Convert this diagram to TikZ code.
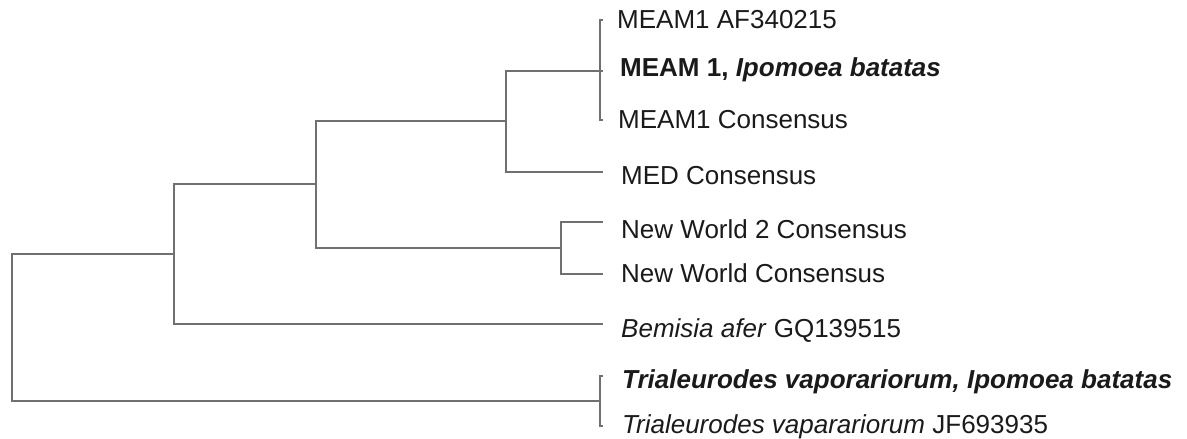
\documentclass[tikz,border=0pt]{standalone}
\usepackage{fontspec}
\setmainfont{Liberation Sans}
\usepackage{tikz}
\usetikzlibrary{positioning}
\definecolor{treegray}{HTML}{707070}
\definecolor{labelink}{HTML}{1A1A1A}

\begin{document}
\begin{tikzpicture}[x=1pt, y=-1pt,
    branch/.style={draw=treegray, line width=2pt},
    taxon/.style={anchor=base west, inner sep=0pt, text=labelink, font=\fontsize{26}{30}\selectfont}]
  \useasboundingbox (0,0) rectangle (1187,439);
  % internal nodes of the tree
  \coordinate (root) at (12,328);
  \coordinate (nA) at (174,254);
  \coordinate (nB) at (316,184);
  \coordinate (nC) at (506,121);
  \coordinate (nD) at (561,248);
  \coordinate (nM) at (600,71);
  \coordinate (nT) at (600,401);
  % leaf tips
  \foreach \name/\y in {tAF/20, tMB/71, tMC/120, tMED/172, tNWtwo/222, tNW/274, tBem/324, tTone/376, tTtwo/426}
    \coordinate (\name) at (603,\y);
  % labels
  \node[taxon] (lAF) at (617,28) {MEAM1 AF340215};
  \node[taxon] (lMB) at (620,76) {\textbf{MEAM 1, \textit{Ipomoea batatas}}};
  \node[taxon] (lMC) at (618,128) {MEAM1 Consensus};
  \node[taxon] (lMED) at (621,184) {MED Consensus};
  \node[taxon] (lNWtwo) at (621,238) {New World 2 Consensus};
  \node[taxon] (lNW) at (621,282) {New World Consensus};
  \node[taxon] (lBem) at (621,337) {\textit{Bemisia afer} GQ139515};
  \node[taxon] (lTone) at (622,388) {\textbf{\textit{Trialeurodes vaporariorum, Ipomoea batatas}}};
  \node[taxon] (lTtwo) at (622,433) {\textit{Trialeurodes vaparariorum} JF693935};
  % branches
  \draw[branch] (root) |- (nA);
  \draw[branch] (root) |- (nT);
  \draw[branch] (nA) |- (nB);
  \draw[branch] (nA) |- (tBem);
  \draw[branch] (nB) |- (nC);
  \draw[branch] (nB) |- (nD);
  \draw[branch] (nC) |- (nM);
  \draw[branch] (nC) |- (tMED);
  \draw[branch] (nD) |- (tNWtwo);
  \draw[branch] (nD) |- (tNW);
  \foreach \leaf in {tAF,tMB,tMC} \draw[branch] (nM) |- (\leaf);
  \foreach \leaf in {tTone,tTtwo} \draw[branch] (nT) |- (\leaf);
\end{tikzpicture}
\end{document}
